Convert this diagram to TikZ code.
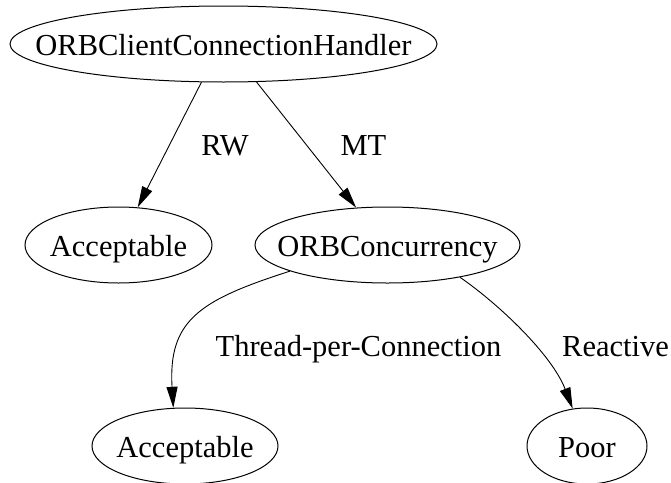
\documentclass[tikz,border=0pt]{standalone}
\usepackage{fontspec}
\setmainfont{Liberation Serif}
\usetikzlibrary{shapes.geometric,arrows.meta}
\newcommand\gvtext[1]{\makebox[0pt]{\raisebox{-11pt}[0pt][0pt]{#1}}}
\begin{document}
\begin{tikzpicture}[x=1pt,y=-1pt, font=\fontsize{30.5}{36}\selectfont,
  gnode/.style={ellipse, draw, line width=1pt, inner sep=0pt, minimum width=#1, minimum height=76pt},
  elabel/.style={anchor=base, inner sep=0pt},
  gedge/.style={draw, line width=0.9pt, -{Triangle[length=21pt,width=11pt]}}]
\fill[white] (0,0) rectangle (671,482);
\useasboundingbox (0,0) rectangle (671,482);
\node[gnode=427pt] (top) at (223.5,44) {\gvtext{ORBClientConnectionHandler}};
\node[gnode=187pt] (acc1) at (118.5,245) {\gvtext{Acceptable}};
\node[gnode=265pt] (conc) at (387.5,245) {\gvtext{ORBConcurrency}};
\node[gnode=186pt] (acc2) at (185,446) {\gvtext{Acceptable}};
\node[gnode=120pt] (poor) at (587,446) {\gvtext{Poor}};
\node[elabel] (lrw) at (225,155) {RW};
\node[elabel] (lmt) at (363.5,155) {MT};
\node[elabel] (ltpc) at (358.5,356) {Thread-per-Connection};
\node[elabel] (lrea) at (615.5,356) {Reactive};
\draw[gedge] (top.240) -- (acc1.63);
\draw[gedge] (top.311) -- (conc.130);
\draw[gedge] (conc.195) .. controls (200,300) and (168,320) .. (acc2.107);
\draw[gedge] (conc.336) .. controls (500,305) and (552,355) .. (poor.111);
\end{tikzpicture}
\end{document}
